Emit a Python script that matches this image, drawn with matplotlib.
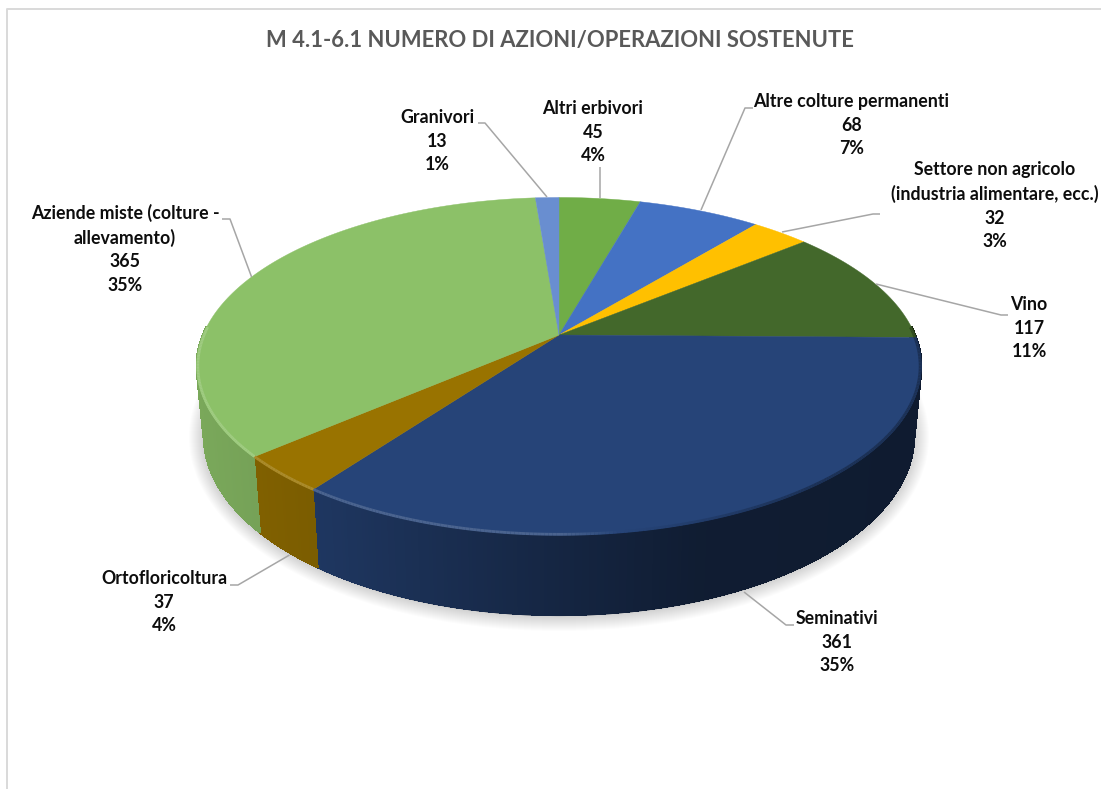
import numpy as np
import matplotlib
matplotlib.use("Agg")
import matplotlib.pyplot as plt
from matplotlib.collections import PolyCollection, LineCollection
from matplotlib.colors import to_rgb
from matplotlib.path import Path
from matplotlib.transforms import Affine2D, Transform

# ---- data ----
title = "M 4.1-6.1 NUMERO DI AZIONI/OPERAZIONI SOSTENUTE"
categories = ["Altri erbivori", "Altre colture permanenti",
              "Settore non agricolo\n(industria alimentare, ecc.)", "Vino",
              "Seminativi", "Ortofloricoltura",
              "Aziende miste (colture -\nallevamento)", "Granivori"]
values = [45, 68, 32, 117, 361, 37, 365, 13]
colors = ["#70AD47", "#4472C4", "#FFC000", "#43682B",
          "#264478", "#997300", "#8CC168", "#698ED0"]

# ---- layout (pixels) ----
label_xy = [(593, 132), (851.5, 125), (995, 205.5), (1029, 328),
            (837, 642), (164, 602), (125, 248.5), (437, 141)]
leaders = [
    [(600, 167), (600, 198)],
    [(753, 108), (745, 108), (701, 210)],
    [(880, 214), (873, 214), (782, 232)],
    [(1008, 315), (1001, 315), (876, 284)],
    [(794, 625), (786, 625), (744, 592)],
    [(230, 585), (238, 585), (289.5, 555)],
    [(222, 219), (230, 219), (251.6, 277)],
    [(478, 123), (485, 123), (547, 197)],
]
CX, CY, A, B, K = 559.0, 335.0, 163.0, 356.0, 0.1852


class Persp(Transform):
    input_dims = output_dims = 2
    is_separable = False
    has_inverse = False

    def transform_non_affine(self, v):
        v = np.asarray(v, float)
        d = 1 + K * v[:, 1]
        return np.column_stack([CX + B * v[:, 0] / d, CY - A * v[:, 1] / d])

    def transform_path_non_affine(self, path):
        # flatten the wedge's curves first so the projection stays smooth
        poly = path.to_polygons(transform=Affine2D().scale(3000), closed_only=True)[0] / 3000
        return Path(self.transform_non_affine(poly))


persp = Persp()


def lower(p):
    return np.column_stack([CX + 0.98 * (p[:, 0] - CX),
                            CY + 69 + 1.06 * (p[:, 1] - CY)])


def shade_at(x):
    return np.interp(x, [200, 320, 560, 700, 920], [0.87, 0.80, 0.55, 0.42, 0.40])


fig = plt.figure(figsize=(11.01, 7.89), dpi=100)
ax = fig.add_axes([0, 0, 1, 1])

wedges, _ = ax.pie(values, startangle=90, counterclock=False, colors=colors,
                   wedgeprops=dict(linewidth=0))
ax.set_aspect("auto")
ax.set_xlim(0, 1101)
ax.set_ylim(789, 0)
ax.axis("off")
for w, c in zip(wedges, colors):
    w.set_transform(persp + ax.transData)
    w.set_zorder(1)
    w.set_edgecolor(c)
    w.set_linewidth(0.3)

# chart frame
ax.plot([6.5, 6.5, 1101], [789, 8.5, 8.5], color="#d9d9d9", lw=1.4, zorder=0.1)

# soft shadow beneath the disc
t = np.radians(np.linspace(0, 360, 361))
ring = lower(persp.transform(np.column_stack([np.cos(t), np.sin(t)])))
mid = np.array([CX, (ring[:, 1].min() + ring[:, 1].max()) / 2])
half = (ring.max(axis=0) - ring.min(axis=0)) / 2
for e in np.arange(15, 0, -1.0):
    pts = mid + (ring - mid) * (half + e) / half
    ax.fill(pts[:, 0], pts[:, 1], color="k", alpha=0.012, lw=0, zorder=0.2)

# side wall and rim of each slice
for w, c in zip(wedges, colors):
    th = np.radians(np.linspace(w.theta1, w.theta2, max(3, int(w.theta2 - w.theta1) * 2)))
    keep = np.sin(th) <= 0.05
    if keep.sum() < 2:
        continue
    th = th[keep]
    top = persp.transform(np.column_stack([np.cos(th), np.sin(th)]))
    bot = lower(top)
    base = np.array(to_rgb(c))
    xm = (top[:-1, 0] + top[1:, 0]) / 2
    walls = np.array([base * shade_at(x) for x in xm])
    # antialiased outline of the wall, then crisp strips for the gradient inside it
    ax.fill(np.r_[top[:, 0], bot[::-1, 0]], np.r_[top[:, 1], bot[::-1, 1]],
            color=base * shade_at(xm.mean()), lw=0, zorder=0.4)
    inner = bot + [0, -1.2]
    polys = [[top[i], top[i + 1], inner[i + 1], inner[i]] for i in range(len(th) - 1)]
    ax.add_collection(PolyCollection(polys, facecolors=walls, edgecolors=walls,
                                     linewidths=1.0, antialiased=False, zorder=0.5))
    # rim: a soft light edge on the left that fades into a dark one on the right
    rim_pts = persp.transform(0.997 * np.column_stack([np.cos(th), np.sin(th)]))
    glow = np.clip((620 - xm) / 350, 0, 0.17)
    dark = np.clip((xm - 620) / 200, 0, 1) * 0.5
    rims = [(base + (1 - base) * g) * (1 - m) + wl * m
            for g, m, wl in zip(glow, dark, walls)]
    segs = [[rim_pts[i], rim_pts[i + 1]] for i in range(len(th) - 1)]
    ax.add_collection(LineCollection(segs, colors=rims, linewidths=2.0,
                                     capstyle="butt", zorder=1.5))

# leader lines
for pts in leaders:
    xs, ys = zip(*pts)
    ax.plot(xs, ys, color="#a6a6a6", lw=1.1, zorder=2, solid_capstyle="butt")

# data labels
total = sum(values)
for name, v, (x, y) in zip(categories, values, label_xy):
    ax.text(x, y, f"{name}\n{v}\n{round(100 * v / total)}%", ha="center", va="center",
            family="Lato", weight="bold", fontsize=12.8, color="#0d0d0d",
            linespacing=1.46, zorder=3)

ax.text(559.5, 40, title, ha="center", va="center", family="Lato", weight="bold",
        fontsize=15.8, color="#595959", zorder=3)

fig.savefig("out.png", dpi=100)
